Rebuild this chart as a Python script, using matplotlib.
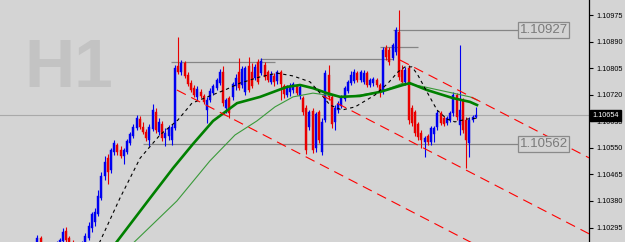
import numpy as np
import matplotlib.pyplot as plt

# EURUSD, H1 -- candles (bar 0 = leftmost)
opens = [1.10197, 1.10217, 1.10236, 1.10261, 1.10239, 1.10217, 1.10204, 1.10191, 1.10223, 1.10242,
         1.10252, 1.10284, 1.10261, 1.10242, 1.10229, 1.10217, 1.10233, 1.10245, 1.10261, 1.10293,
         1.10313, 1.10338, 1.10389, 1.10460, 1.10517, 1.10479, 1.10537, 1.10559, 1.10543, 1.10524,
         1.10537, 1.10565, 1.10588, 1.10613, 1.10642, 1.10617, 1.10601, 1.10575, 1.10610, 1.10665,
         1.10601, 1.10626, 1.10581, 1.10588, 1.10575, 1.10613, 1.10812, 1.10793, 1.10821, 1.10783,
         1.10757, 1.10741, 1.10713, 1.10729, 1.10716, 1.10671, 1.10703, 1.10725, 1.10741, 1.10757,
         1.10793, 1.10677, 1.10709, 1.10713, 1.10748, 1.10793, 1.10751, 1.10729, 1.10812, 1.10793,
         1.10773, 1.10825, 1.10789, 1.10815, 1.10793, 1.10761, 1.10780, 1.10764, 1.10793, 1.10748,
         1.10719, 1.10729, 1.10735, 1.10748, 1.10716, 1.10709, 1.10677, 1.10617, 1.10668, 1.10549,
         1.10665, 1.10537, 1.10639, 1.10783, 1.10713, 1.10633, 1.10671, 1.10684, 1.10706, 1.10732,
         1.10757, 1.10764, 1.10789, 1.10767, 1.10761, 1.10789, 1.10751, 1.10757, 1.10767, 1.10751,
         1.10729, 1.10869, 1.10863, 1.10837, 1.10857, 1.10921, 1.10799, 1.10761, 1.10805, 1.10677,
         1.10665, 1.10626, 1.10597, 1.10569, 1.10588, 1.10569, 1.10594, 1.10617, 1.10661, 1.10645,
         1.10629, 1.10639, 1.10661, 1.10719, 1.10623, 1.10703, 1.10639, 1.10565, 1.10639, 1.10649]
highs = [1.10223, 1.10242, 1.10271, 1.10268, 1.10245, 1.10226, 1.10210, 1.10233, 1.10252, 1.10261,
         1.10293, 1.10297, 1.10268, 1.10255, 1.10239, 1.10242, 1.10252, 1.10277, 1.10313, 1.10345,
         1.10357, 1.10415, 1.10473, 1.10524, 1.10530, 1.10549, 1.10575, 1.10565, 1.10556, 1.10549,
         1.10578, 1.10601, 1.10626, 1.10655, 1.10652, 1.10633, 1.10610, 1.10626, 1.10690, 1.10677,
         1.10645, 1.10636, 1.10613, 1.10623, 1.10626, 1.10815, 1.10905, 1.10831, 1.10828, 1.10793,
         1.10767, 1.10751, 1.10748, 1.10738, 1.10722, 1.10713, 1.10741, 1.10754, 1.10773, 1.10802,
         1.10812, 1.10709, 1.10716, 1.10761, 1.10786, 1.10837, 1.10812, 1.10812, 1.10841, 1.10821,
         1.10818, 1.10834, 1.10837, 1.10825, 1.10799, 1.10796, 1.10789, 1.10799, 1.10799, 1.10754,
         1.10751, 1.10757, 1.10761, 1.10754, 1.10751, 1.10716, 1.10687, 1.10671, 1.10677, 1.10665,
         1.10671, 1.10645, 1.10799, 1.10815, 1.10719, 1.10687, 1.10700, 1.10719, 1.10748, 1.10767,
         1.10796, 1.10802, 1.10796, 1.10799, 1.10799, 1.10796, 1.10773, 1.10777, 1.10773, 1.10757,
         1.10873, 1.10879, 1.10873, 1.10885, 1.10937, 1.10991, 1.10815, 1.10809, 1.10815, 1.10687,
         1.10671, 1.10633, 1.10607, 1.10588, 1.10594, 1.10620, 1.10620, 1.10671, 1.10668, 1.10652,
         1.10652, 1.10668, 1.10729, 1.10725, 1.10879, 1.10709, 1.10649, 1.10649, 1.10655, 1.10681]
lows = [1.10185, 1.10204, 1.10229, 1.10233, 1.10204, 1.10191, 1.10178, 1.10185, 1.10217, 1.10233,
        1.10245, 1.10249, 1.10236, 1.10217, 1.10204, 1.10207, 1.10223, 1.10236, 1.10255, 1.10281,
        1.10300, 1.10332, 1.10383, 1.10447, 1.10434, 1.10469, 1.10527, 1.10527, 1.10517, 1.10498,
        1.10530, 1.10559, 1.10581, 1.10607, 1.10610, 1.10594, 1.10572, 1.10556, 1.10604, 1.10597,
        1.10591, 1.10572, 1.10556, 1.10575, 1.10559, 1.10607, 1.10786, 1.10783, 1.10773, 1.10748,
        1.10729, 1.10713, 1.10703, 1.10709, 1.10690, 1.10629, 1.10697, 1.10719, 1.10735, 1.10751,
        1.10684, 1.10661, 1.10645, 1.10703, 1.10735, 1.10735, 1.10741, 1.10719, 1.10729, 1.10741,
        1.10767, 1.10754, 1.10783, 1.10767, 1.10761, 1.10754, 1.10748, 1.10754, 1.10703, 1.10709,
        1.10713, 1.10716, 1.10725, 1.10719, 1.10706, 1.10655, 1.10530, 1.10607, 1.10533, 1.10537,
        1.10565, 1.10527, 1.10633, 1.10703, 1.10613, 1.10607, 1.10661, 1.10677, 1.10700, 1.10725,
        1.10751, 1.10757, 1.10761, 1.10761, 1.10754, 1.10745, 1.10745, 1.10748, 1.10745, 1.10713,
        1.10722, 1.10831, 1.10815, 1.10831, 1.10847, 1.10767, 1.10751, 1.10751, 1.10626, 1.10620,
        1.10588, 1.10575, 1.10549, 1.10521, 1.10559, 1.10559, 1.10569, 1.10607, 1.10623, 1.10620,
        1.10623, 1.10633, 1.10652, 1.10639, 1.10591, 1.10597, 1.10485, 1.10521, 1.10633, 1.10645]
closes = [1.10217, 1.10236, 1.10261, 1.10239, 1.10217, 1.10204, 1.10191, 1.10223, 1.10242, 1.10255,
          1.10281, 1.10255, 1.10242, 1.10229, 1.10217, 1.10233, 1.10245, 1.10268, 1.10300, 1.10338,
          1.10345, 1.10396, 1.10460, 1.10505, 1.10473, 1.10543, 1.10565, 1.10537, 1.10524, 1.10543,
          1.10572, 1.10594, 1.10617, 1.10645, 1.10617, 1.10601, 1.10581, 1.10617, 1.10671, 1.10607,
          1.10633, 1.10581, 1.10597, 1.10613, 1.10617, 1.10805, 1.10793, 1.10821, 1.10780, 1.10754,
          1.10735, 1.10719, 1.10738, 1.10716, 1.10697, 1.10703, 1.10732, 1.10748, 1.10767, 1.10793,
          1.10693, 1.10703, 1.10661, 1.10754, 1.10773, 1.10741, 1.10802, 1.10805, 1.10735, 1.10748,
          1.10809, 1.10761, 1.10828, 1.10777, 1.10767, 1.10786, 1.10761, 1.10793, 1.10754, 1.10722,
          1.10741, 1.10748, 1.10754, 1.10725, 1.10745, 1.10665, 1.10543, 1.10665, 1.10543, 1.10658,
          1.10575, 1.10633, 1.10789, 1.10713, 1.10626, 1.10677, 1.10690, 1.10713, 1.10741, 1.10761,
          1.10783, 1.10793, 1.10767, 1.10793, 1.10789, 1.10751, 1.10767, 1.10770, 1.10751, 1.10729,
          1.10863, 1.10841, 1.10825, 1.10879, 1.10927, 1.10777, 1.10761, 1.10799, 1.10639, 1.10629,
          1.10597, 1.10585, 1.10575, 1.10581, 1.10569, 1.10613, 1.10613, 1.10661, 1.10629, 1.10626,
          1.10645, 1.10661, 1.10719, 1.10649, 1.10671, 1.10607, 1.10575, 1.10639, 1.10649, 1.10654]

# moving averages (bar, price) as they appear on the chart
ma_fast_bar = [20.6, 27.8, 34.1, 40.3, 45.9, 50.3, 56.6, 60.6, 65.3, 71.6, 76.9, 81.9, 87.2, 90.9, 93.4,
               97.2, 101.3, 107.5, 111.6, 114.7, 116.9, 119.1, 120.9, 123.75, 126.9, 130, 132.5, 136.25, 139.4]
ma_fast = [1.10229, 1.10389, 1.10517, 1.10591, 1.10639, 1.10693, 1.10719, 1.10735, 1.10757, 1.10777,
           1.10789, 1.10780, 1.10761, 1.10719, 1.10687, 1.10671, 1.10681, 1.10719, 1.10757, 1.10793,
           1.10809, 1.10809, 1.10783, 1.10729, 1.10671, 1.10642, 1.10633, 1.10642, 1.10645]
ma_mid_bar = [25.3, 37.2, 44.4, 50.6, 56.9, 64.4, 71.6, 80, 84.1, 88.1, 92.5, 96.6, 102.8, 109.1,
              116.25, 118.4, 123.75, 131.9, 137.2, 139.4]
ma_mid = [1.10229, 1.10389, 1.10485, 1.10562, 1.10636, 1.10693, 1.10713, 1.10745, 1.10751, 1.10741,
          1.10725, 1.10713, 1.10716, 1.10729, 1.10751, 1.10757, 1.10735, 1.10709, 1.10697, 1.10687]
ma_slow_bar = [30.3, 45.6, 55.9, 63.75, 70.6, 76.25, 81.9, 88.1, 92.5, 98.1, 102.8, 109.1, 116.25,
               121.6, 131.9, 137.2, 139.4]
ma_slow = [1.10229, 1.10380, 1.10508, 1.10591, 1.10636, 1.10681, 1.10713, 1.10725, 1.10719, 1.10713,
           1.10719, 1.10729, 1.10757, 1.10748, 1.10725, 1.10713, 1.10703]

# channel trend lines (start bar, start price, end bar, end price)
channels = [(115.3, 1.10831, 174.4, 1.10518),
            (91.25, 1.10716, 174.4, 1.10275),
            (45.6, 1.10735, 174.4, 1.10052)]

# support / resistance segments
level_price = [1.10825, 1.10834, 1.10873, 1.10927, 1.10562]
level_from = [43.75, 71.6, 109, 113.1, 35]
level_to = [76.25, 113.1, 121, 152.5, 152.5]
boxed_levels = [1.10927, 1.10562]

bid = 1.10654
yticks = [1.10295, 1.10380, 1.10465, 1.10550, 1.10635, 1.10720, 1.10805, 1.10890, 1.10975]

BG = '#d4d4d4'
BULL = '#0000f0'
BEAR = '#e80000'

fig = plt.figure(figsize=(6.25, 2.42), dpi=100, facecolor=BG)
ax = fig.add_axes([0, 0, 589 / 625, 1])
ax.set_facecolor(BG)

# watermark
ax.text(0.041, 0.64, 'H1', transform=ax.transAxes, fontsize=50, fontweight='bold',
        family='Liberation Sans', color='#c3c3c3', va='baseline', ha='left', zorder=0.5)

# price line + levels
ax.axhline(bid, color='#a9a9a9', lw=0.8, zorder=1)
ax.hlines(level_price, level_from, level_to, colors='#858585', lw=0.9, zorder=1)
for p in boxed_levels:
    ax.text(152.7, p, '%.5f' % p, fontsize=9.5, family='Liberation Sans', color='#7a7a7a',
            va='center', ha='left', zorder=6,
            bbox=dict(boxstyle='square,pad=0.12', fc=BG, ec='#8a8a8a', lw=0.9))

# candles
x = np.arange(len(closes))
o = np.array(opens)
c = np.array(closes)
up = c >= o
cols = np.where(up, BULL, BEAR)
ax.vlines(x, lows, highs, colors=cols, lw=0.8, zorder=3)
body = np.where(np.abs(c - o) < 0.00003, 0.00003, c - o)
ax.bar(x, body, bottom=o, width=0.62, color=cols, edgecolor=cols, lw=0.3, zorder=3)

# moving averages
ax.plot(ma_slow_bar, ma_slow, color='#3a9a3a', lw=0.8, zorder=4)
ax.plot(ma_mid_bar, ma_mid, color='#008000', lw=1.9, zorder=4)
ax.plot(ma_fast_bar, ma_fast, color='black', lw=0.8, dashes=(3, 3), zorder=4)

# channel
for x0, y0, x1, y1 in channels:
    ax.plot([x0, x1], [y0, y1], color='#ff0000', lw=0.8, dashes=(9, 5.5), zorder=5)

ax.set_xlim(-9.69, 174.4)
ax.set_ylim(1.1024866, 1.11023)

for s in ['top', 'left', 'bottom']:
    ax.spines[s].set_visible(False)
ax.spines['right'].set_color('black')
ax.spines['right'].set_linewidth(0.9)
ax.set_xticks([])
ax.yaxis.tick_right()
ax.set_yticks(yticks)
ax.set_yticklabels(['%.5f' % t for t in yticks])
ax.tick_params(axis='y', direction='out', length=3, width=0.8, pad=2,
               labelsize=5.2, colors='black')
for lab in ax.get_yticklabels():
    lab.set_family('Liberation Sans')

# current bid tag
ax.text(1.0055, bid, '%.5f' % bid, transform=ax.get_yaxis_transform(), fontsize=5.2,
        family='Liberation Sans', color='white', va='center', ha='left', clip_on=False, zorder=10,
        bbox=dict(boxstyle='square,pad=0.3', fc='black', ec='black'))

fig.savefig('out.png', dpi=100, facecolor=BG)
